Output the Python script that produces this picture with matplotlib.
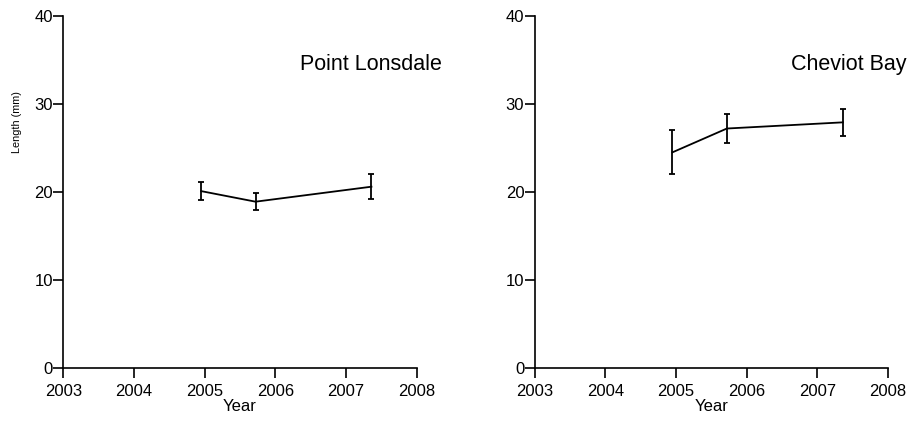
import matplotlib

matplotlib.use("Agg")
import matplotlib.pyplot as plt

plt.rcParams["font.family"] = ["Liberation Sans", "DejaVu Sans"]

# Mean shell length per sampling time, with standard error
years = [2004.95, 2005.72, 2007.36]

lonsdaleLength = [20.1, 18.9, 20.6]
lonsdaleErr = [1.0, 1.0, 1.4]

cheviotLength = [24.5, 27.2, 27.9]
cheviotErr = [2.5, 1.6, 1.55]

sites = ["Point Lonsdale", "Cheviot Bay"]
yearTicks = [2003, 2004, 2005, 2006, 2007, 2008]
lengthTicks = [0, 10, 20, 30, 40]


def drawPanel(ax, lengths, errs, site, titleX):
    ax.errorbar(
        years,
        lengths,
        yerr=errs,
        color="black",
        linewidth=1.3,
        elinewidth=1.3,
        capsize=2.3,
        capthick=1.3,
    )
    ax.set_xlim(2003, 2008)
    ax.set_ylim(0, 40)
    ax.set_xticks(yearTicks)
    ax.set_yticks(lengthTicks)
    ax.spines["top"].set_visible(False)
    ax.spines["right"].set_visible(False)
    for side in ("left", "bottom"):
        ax.spines[side].set_linewidth(1.2)
    ax.tick_params(direction="out", length=7, width=1.2, labelsize=12)
    ax.tick_params(axis="x", pad=4)
    ax.tick_params(axis="y", pad=0.5)
    ax.set_xlabel("Year", fontsize=12, labelpad=0.5)
    # site name sits in the upper right, slightly past the axis end
    ax.figure.text(titleX, 0.835, site, ha="right", va="baseline", fontsize=15.5)


fig = plt.figure(figsize=(9.09, 4.24), dpi=100)
axLeft = fig.add_axes([0.0696, 0.1314, 0.3888, 0.8316])
axRight = fig.add_axes([0.5882, 0.1314, 0.3887, 0.8316])

drawPanel(axLeft, lonsdaleLength, lonsdaleErr, sites[0], 0.486)
drawPanel(axRight, cheviotLength, cheviotErr, sites[1], 0.997)

fig.text(0.019, 0.712, "Length (mm)", rotation=90, ha="center", va="center", fontsize=7.8)

fig.savefig("out.png", dpi=100)
